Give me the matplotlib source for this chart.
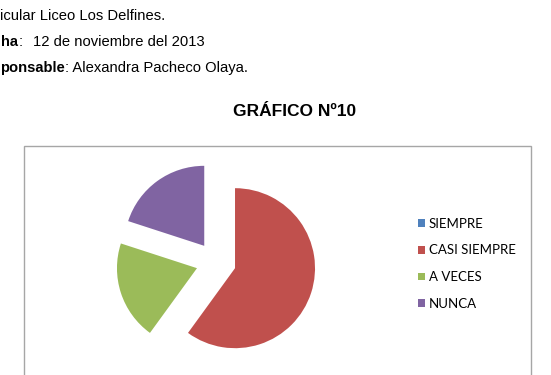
import matplotlib
matplotlib.use("Agg")
from matplotlib import pyplot as plt
from matplotlib.patches import Rectangle

# data
categorias = ["SIEMPRE", "CASI SIEMPRE", "A VECES", "NUNCA"]
valores = [0, 60, 20, 20]
colores = ["#4F81BD", "#C0504D", "#9BBB59", "#8064A2"]
titulo = "GRÁFICO Nº10"

W, H = 551, 375
fig = plt.figure(figsize=(W / 100, H / 100), dpi=100)
plt.rcParams['font.family'] = ['Liberation Sans', 'DejaVu Sans']

def fx(px):
    return px / W

def fy(py):
    return 1 - py / H

# header lines (page is cropped on the left in the original)
fs_head = 10.6
fig.text(fx(0.5), fy(16), "icular Liceo Los Delfines.", fontsize=fs_head, va='center', ha='left')
t2 = fig.text(fx(0.5), fy(42), "ha", fontsize=fs_head, fontweight='bold', va='center', ha='left')
t3 = fig.text(fx(0.5), fy(68), "ponsable", fontsize=fs_head, fontweight='bold', va='center', ha='left')
fig.canvas.draw()
bb2 = t2.get_window_extent()
bb3 = t3.get_window_extent()
fig.text((bb2.x1 + 1) / W, fy(42), ":", fontsize=fs_head, va='center', ha='left')
fig.text(fx(33), fy(42), "12 de noviembre del 2013", fontsize=fs_head, va='center', ha='left')
fig.text(bb3.x1 / W, fy(68), ": Alexandra Pacheco Olaya.", fontsize=fs_head, va='center', ha='left')

# title
fig.text(fx(295), fy(112), titulo, fontsize=12.5, fontweight='bold', ha='center', va='center')

# chart box
fig.patches.append(Rectangle((fx(24), fy(390)), fx(531) - fx(24), fy(146) - fy(390),
                             transform=fig.transFigure, fill=False,
                             edgecolor='#A6A6A6', linewidth=1.0))

# pie
cx, cy, r = 216, 262, 80
half = 110
ax = fig.add_axes([fx(cx - half), fy(cy + half), 2 * half / W, 2 * half / H])
wedges, _ = ax.pie(valores, colors=colores, startangle=90, counterclock=False,
                   explode=[0.25] * len(valores), radius=1.0,
                   wedgeprops=dict(linewidth=0))
ax.set_xlim(-half / r, half / r)
ax.set_ylim(-half / r, half / r)
ax.set_aspect('auto')
ax.axis('off')

fig.legend(wedges, categorias, loc='upper left', bbox_to_anchor=(fx(411), fy(211)),
           frameon=False, handlelength=0.55, handleheight=0.55, handletextpad=0.3,
           labelspacing=1.12, borderpad=0,
           prop=dict(family=['Lato', 'DejaVu Sans'], size=9.5))

fig.savefig("out.png", dpi=100, facecolor='white')
